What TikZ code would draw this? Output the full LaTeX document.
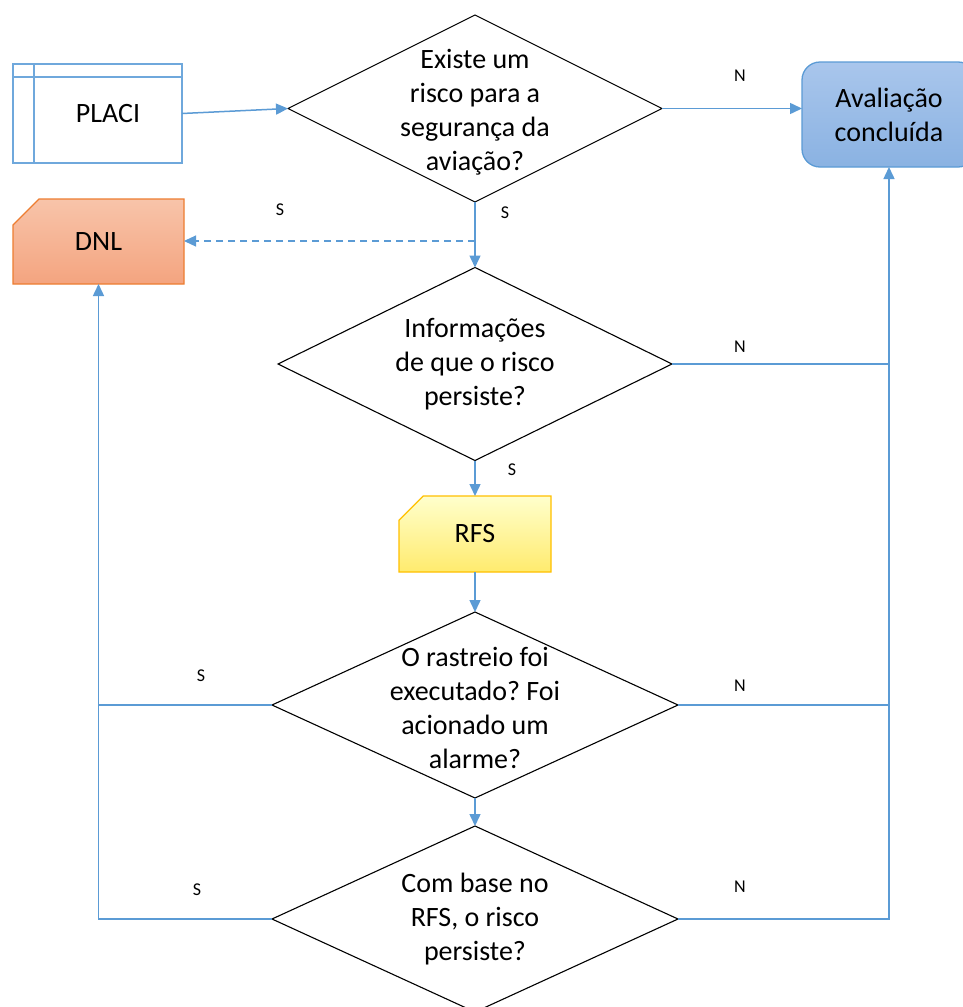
\documentclass[tikz,border=0pt]{standalone}
\usepackage{fontspec}
\setmainfont{Carlito}
\frenchspacing
\usetikzlibrary{shapes.geometric,shapes.misc,arrows.meta}
\definecolor{flow}{HTML}{5B9BD5}
\definecolor{placiline}{HTML}{6FA8DC}
\definecolor{blueTop}{HTML}{A9C6EC}
\definecolor{blueBot}{HTML}{8AB2E2}
\definecolor{salmonTop}{HTML}{F8C4AA}
\definecolor{salmonBot}{HTML}{F4A47F}
\definecolor{salmonLine}{HTML}{ED7D31}
\definecolor{yellowTop}{HTML}{FFFFCC}
\definecolor{yellowBot}{HTML}{FFEB6E}
\definecolor{yellowLine}{HTML}{FFC000}
\begin{document}
\begin{tikzpicture}[x=1pt,y=-1pt,
  decision/.style 2 args={shape=diamond, draw=black, line width=1.1pt,
    minimum width=#1, minimum height=#2, inner sep=0pt, outer sep=0pt},
  qtext/.style={align=center, inner sep=0pt,
    font=\fontsize{28}{34}\selectfont},
  lbl/.style={inner sep=0pt, font=\fontsize{18}{21}\selectfont},
  flowline/.style={draw=flow, line width=1.5pt},
  arr/.style={flowline, -{Triangle[length=12pt,width=11pt]}},
  docbox/.style={shape=chamfered rectangle, chamfered rectangle corners=north west,
    inner sep=0pt, outer sep=0pt, line width=1.3pt,
    font=\fontsize{28}{34}\selectfont}
]
\clip (0,0) rectangle (963,1007);
\fill[white] (0,0) rectangle (963,1007);

% --- boxes ---
\node[draw=placiline, line width=1.3pt, minimum width=169pt, minimum height=99pt,
      inner sep=0pt, outer sep=0pt, font=\fontsize{28}{34}\selectfont]
      (placi) at (97.5,113.5) {\hspace*{21pt}PLACI};
\draw[placiline, line width=1.3pt]
  ([xshift=21pt]placi.north west) -- ([xshift=21pt]placi.south west);
\draw[placiline, line width=1.3pt]
  ([yshift=-13pt]placi.north west) -- ([yshift=-13pt]placi.north east);

\node[draw=flow, line width=1.3pt, rounded corners=18pt,
      top color=blueTop, bottom color=blueBot,
      minimum width=174pt, minimum height=105pt, inner sep=0pt, outer sep=0pt,
      align=center, font=\fontsize{28}{34}\selectfont]
      (aval) at (889,114.5) {Avaliação\\concluída};

\node[docbox, draw=salmonLine, top color=salmonTop, bottom color=salmonBot,
      minimum width=171pt, minimum height=85pt,
      chamfered rectangle xsep=34pt, chamfered rectangle ysep=17pt]
      (dnl) at (98.5,241.5) {DNL};

\node[docbox, draw=yellowLine, top color=yellowTop, bottom color=yellowBot,
      minimum width=152pt, minimum height=76pt,
      chamfered rectangle xsep=30pt, chamfered rectangle ysep=15pt]
      (rfs) at (475,534) {RFS};

% --- decisions ---
\node[decision={374pt}{187pt}] (d1) at (475,108.5) {};
\node[qtext] (t1) at (475,112) {Existe um\\risco para a\\segurança da\\aviação?};

\node[decision={394pt}{193pt}] (d2) at (475,364) {};
\node[qtext] (t2) at (475,364) {Informações\\de que o risco\\persiste?};

\node[decision={406pt}{186pt}] (d3) at (475,705) {};
\node[qtext] (t3) at (475,708) {O rastreio foi\\executado? Foi\\acionado um\\alarme?};

\node[decision={406pt}{186pt}] (d4) at (475,919) {};
\node[qtext] (t4) at (475,919) {Com base no\\RFS, o risco\\persiste?};

% --- connectors ---
\draw[arr] (placi.east) -- (d1.west);
\draw[arr] (d1.east) -- (d1.east -| aval.west);
\draw[arr] (d1.south) -- (d2.north);
\coordinate (split) at (475,241);
\draw[arr, dashed, dash pattern=on 7pt off 5pt, line width=1.2pt]
  (split) -- (split -| dnl.east);
\draw[arr] (d2.south) -- (rfs.north);
\draw[arr] (rfs.south) -- (d3.north);
\draw[arr] (d3.south) -- (d4.north);

\draw[flowline] (d2.east) -- (d2.east -| aval.south);
\draw[flowline] (d3.east) -- (d3.east -| aval.south);
\draw[arr] (d4.east) -| (aval.south);

\draw[flowline] (d3.west) -- (d3.west -| dnl.south);
\draw[arr] (d4.west) -| (dnl.south);

% --- branch labels ---
\node[lbl] (n1) at (740,76) {N};
\node[lbl] (s1) at (280,210) {S};
\node[lbl] (s2) at (505,213) {S};
\node[lbl] (n2) at (740,347) {N};
\node[lbl] (s3) at (512,470) {S};
\node[lbl] (s4) at (201,676) {S};
\node[lbl] (n3) at (740,686) {N};
\node[lbl] (s5) at (197,890) {S};
\node[lbl] (n4) at (740,887) {N};
\end{tikzpicture}
\end{document}
